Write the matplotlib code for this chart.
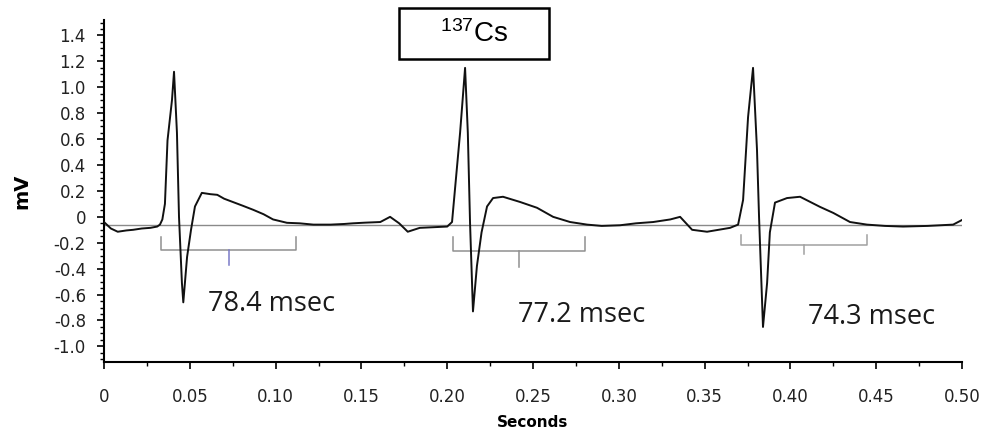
import numpy as np
import matplotlib.pyplot as plt
from matplotlib.patches import Rectangle
from matplotlib.ticker import MultipleLocator

plt.rcParams['mathtext.default'] = 'regular'

# ECG trace (seconds, mV)
time_s = [0.000, 0.004, 0.008, 0.013, 0.017, 0.022, 0.027, 0.031, 0.0326, 0.034, 0.0355,
          0.037, 0.0396, 0.0408, 0.0425, 0.0437, 0.0454, 0.0462, 0.0484, 0.0507, 0.053,
          0.057, 0.062, 0.066, 0.070, 0.075, 0.081, 0.087, 0.093, 0.0985, 0.1066,
          0.114, 0.122, 0.132, 0.140, 0.145, 0.152, 0.161, 0.1667, 0.172, 0.177,
          0.184, 0.192, 0.200, 0.2028, 0.2045, 0.2075, 0.2104, 0.212, 0.2133, 0.215,
          0.2173, 0.220, 0.2232, 0.2267, 0.2325, 0.2424, 0.2523, 0.2617, 0.2716, 0.2815,
          0.290, 0.3007, 0.310, 0.320, 0.330, 0.3357, 0.3427, 0.3514, 0.3648, 0.3695,
          0.3724, 0.3753, 0.3782, 0.3805, 0.3817, 0.384, 0.3864, 0.388, 0.391, 0.398,
          0.4056, 0.4172, 0.425, 0.4347, 0.4446, 0.455, 0.4656, 0.480, 0.4948, 0.5006]
mv = [-0.04, -0.09, -0.115, -0.105, -0.10, -0.09, -0.085, -0.075, -0.06, -0.02, 0.1,
      0.59, 0.90, 1.12, 0.65, 0.0, -0.51, -0.66, -0.31, -0.10, 0.08,
      0.185, 0.175, 0.17, 0.14, 0.115, 0.085, 0.054, 0.02, -0.02, -0.046,
      -0.05, -0.06, -0.06, -0.055, -0.05, -0.045, -0.04, 0.0, -0.05, -0.115,
      -0.085, -0.08, -0.075, -0.04, 0.21, 0.65, 1.15, 0.65, -0.05, -0.73,
      -0.38, -0.12, 0.08, 0.145, 0.155, 0.115, 0.07, 0.0, -0.04, -0.06,
      -0.07, -0.065, -0.05, -0.04, -0.02, 0.0, -0.10, -0.115, -0.085, -0.06,
      0.13, 0.77, 1.15, 0.52, 0.0, -0.85, -0.51, -0.12, 0.11, 0.145,
      0.155, 0.077, 0.03, -0.04, -0.06, -0.07, -0.075, -0.07, -0.06, -0.02]

baseline_mv = -0.06

# interval brackets
br_start = [0.0332, 0.2034, 0.371]
br_end = [0.112, 0.280, 0.4446]
br_top = [-0.154, -0.154, -0.138]
br_bottom = [-0.254, -0.26, -0.215]
br_tick = [-0.37, -0.385, -0.29]
br_colors = ['#8f8f8f', '#8f8f8f', '#a0a0a0']
tick_colors = ['#7a7ac8', '#8f8f8f', '#a0a0a0']

labels = ['78.4 msec', '77.2 msec', '74.3 msec']
label_x = [0.0976, 0.2783, 0.4473]
label_y = [-0.73, -0.815, -0.83]

xticks = [0, 0.05, 0.10, 0.15, 0.20, 0.25, 0.30, 0.35, 0.40, 0.45, 0.50]
yticks = [1.4, 1.2, 1.0, 0.8, 0.6, 0.4, 0.2, 0, -0.2, -0.4, -0.6, -0.8, -1.0]

fig = plt.figure(figsize=(9.84, 4.43), dpi=100)
ax = fig.add_axes([0.1057, 0.183, 0.872, 0.772])

ax.axhline(baseline_mv, color='#8a8a8a', lw=1.0, zorder=1)
ax.plot(time_s, mv, color='#111111', lw=1.4, zorder=3)

for i in range(3):
    s, e = br_start[i], br_end[i]
    mid = (s + e) / 2
    ax.plot([s, s, e, e], [br_top[i], br_bottom[i], br_bottom[i], br_top[i]],
            color=br_colors[i], lw=1.1, zorder=2)
    ax.plot([mid, mid], [br_bottom[i], br_tick[i]], color=tick_colors[i], lw=1.1, zorder=2)
    ax.text(label_x[i], label_y[i], labels[i], fontsize=19.5, family='Open Sans',
            ha='center', va='baseline', color='#1a1a1a')

ax.set_xlim(0, 0.5)
ax.set_ylim(-1.12, 1.52)

for side in ['top', 'right']:
    ax.spines[side].set_visible(False)
for side in ['left', 'bottom']:
    ax.spines[side].set_linewidth(1.5)

ax.set_xticks(xticks)
ax.set_xticklabels(['0' if v == 0 else f'{v:.2f}' for v in xticks])
ax.set_yticks(yticks)
ax.set_yticklabels(['0' if v == 0 else f'{v:.1f}' for v in yticks])
ax.xaxis.set_minor_locator(MultipleLocator(0.025))
ax.yaxis.set_minor_locator(MultipleLocator(0.05))
ax.tick_params(which='major', length=5, width=1.2, labelsize=12, labelcolor='#222222')
ax.tick_params(axis='x', which='major', pad=14)
ax.tick_params(axis='y', which='major', pad=8)
ax.tick_params(which='minor', length=3, width=1.0)

ax.set_xlabel('Seconds', fontsize=11, fontweight='bold', labelpad=6)
ax.set_ylabel('mV', fontsize=14, fontweight='bold', labelpad=16)

# title box
fig.patches.append(Rectangle((0.4055, 0.867), 0.1524, 0.115, transform=fig.transFigure,
                             fill=False, edgecolor='black', lw=1.8))
fig.text(0.4817, 0.924, r'$^{137}$Cs', fontsize=20, family='Liberation Sans',
         ha='center', va='center')

plt.savefig('out.png', dpi=100)
